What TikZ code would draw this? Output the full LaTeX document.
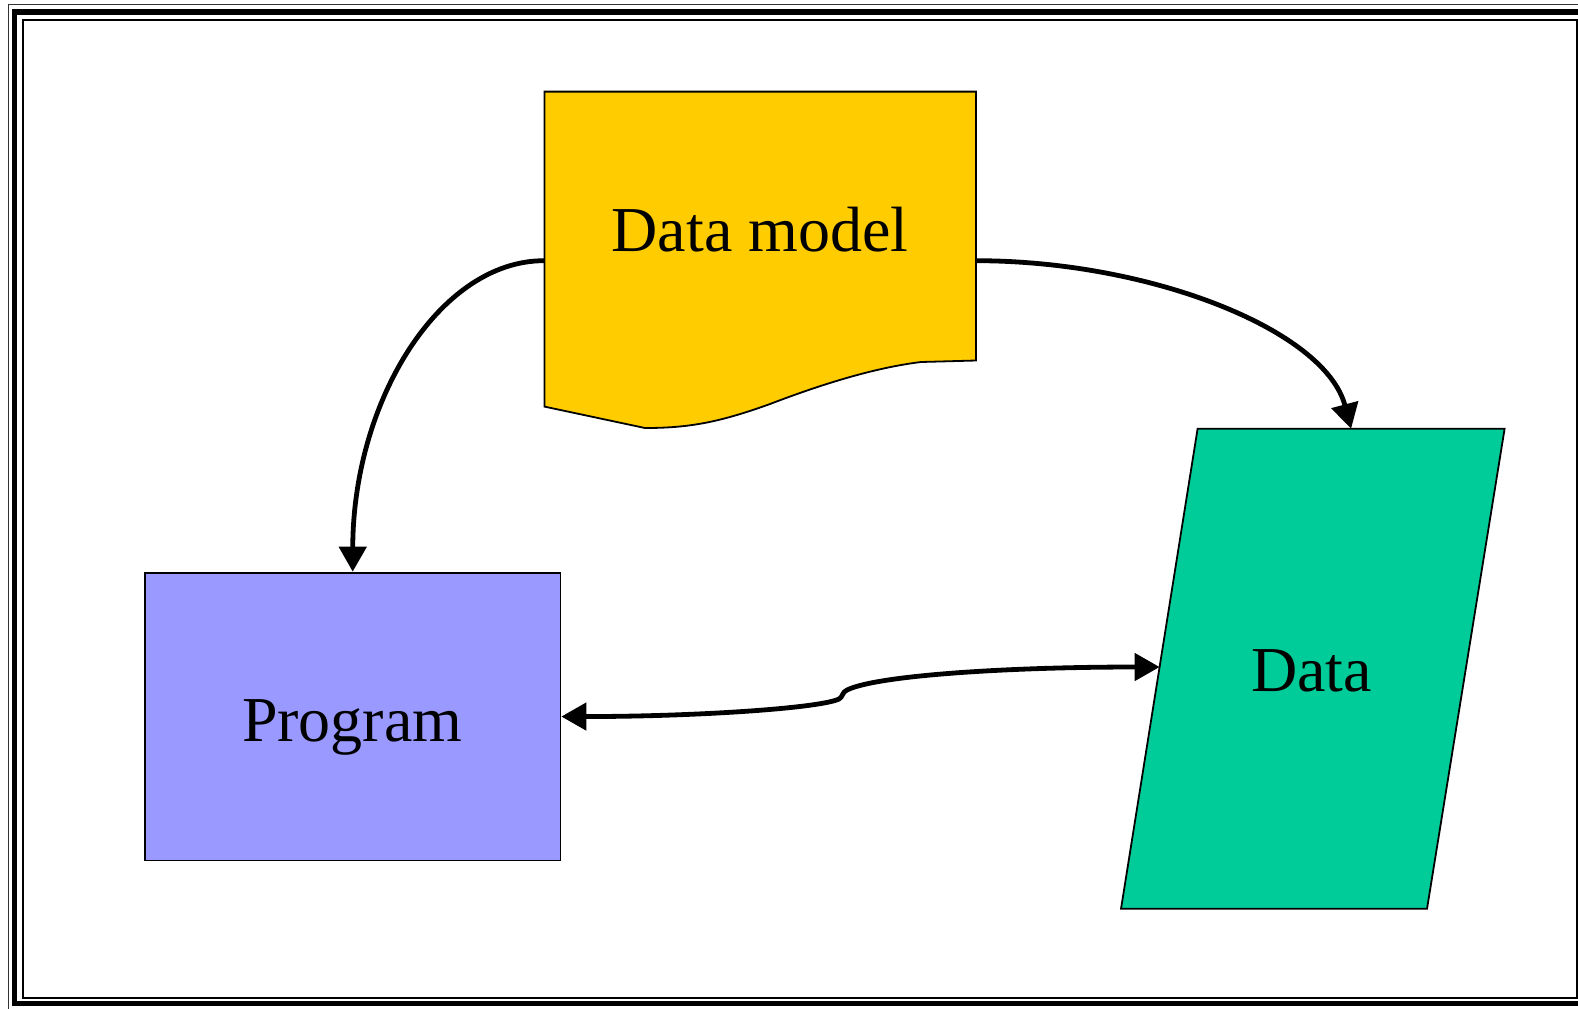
\documentclass[tikz,border=0pt]{standalone}
\usepackage{fontspec}
\setmainfont{Liberation Serif}
\usetikzlibrary{arrows.meta}
\definecolor{docyellow}{HTML}{FFCC00}
\definecolor{progblue}{HTML}{9999FF}
\definecolor{datagreen}{HTML}{00CC99}
\tikzset{
  shapeline/.style={draw=black, line width=0.9pt, inner sep=0pt},
  boxtext/.style={font=\fontsize{32pt}{38pt}\selectfont, inner sep=0pt, anchor=base},
  link/.style={line width=2.4pt, -{Triangle[length=12.5pt,width=13.5pt]}},
  twoway/.style={line width=2.4pt, {Triangle[length=12.5pt,width=13.5pt]}-{Triangle[length=12.5pt,width=13.5pt]}},
}
\begin{document}
\begin{tikzpicture}[x=0.5pt,y=-0.5pt]
\useasboundingbox (0,0) rectangle (1578,1008);
\clip (0,0) rectangle (1578,1008);
\fill[white] (0,0) rectangle (1578,1008);

% triple frame
\draw[line width=0.75pt, black!80] (8.5,4.7) rectangle (1600,1020);
\draw[line width=2.6pt] (14.5,12) rectangle (1590,1003.5);
\draw[line width=1pt] (23,19.7) rectangle (1576.5,998);

% data model: document shape with a wavy lower edge
\node[minimum width=215.75pt, minimum height=169.1pt, inner sep=0pt] (dm) at (760,260.7) {};
\filldraw[fill=docyellow, shapeline]
  (544.5,91.6) -- (976,91.6) -- (976,360.5) -- (921,362)
  .. controls (880,367) and (830,381) .. (770,404)
  .. controls (720,422) and (690,428) .. (645,428)
  -- (544.5,406.6) -- cycle;
\node[boxtext] (dmtext) at (760,251.7) {Data model};

% program
\node[shapeline, rectangle, fill=progblue, minimum width=207.75pt, minimum height=143.95pt] (prog) at (352.7,716.55) {};
\node[boxtext] (progtext) at (352.3,741.7) {Program};

% data: parallelogram leaning right
\filldraw[fill=datagreen, shapeline]
  (1197.6,428.7) -- (1504.6,428.7) -- (1427,908.8) -- (1121,908.8) -- cycle;
\coordinate (datatop) at (1351.1,428.7);
\coordinate (dataleft) at (1159.6,667);
\node[boxtext] (datatext) at (1311.7,691.7) {Data};

% connectors
\draw[link] (dm.west) .. controls (440,260.7) and (353,400) .. (prog.north);
\draw[link] (dm.east) .. controls (1150,260.7) and (1325,330) .. (datatop);
\draw[twoway] (prog.east) .. controls (700,716.5) and (820,708) .. (839,699)
  .. controls (843,697) and (842,692) .. (847,690)
  .. controls (875,676) and (1000,667) .. (dataleft);
\end{tikzpicture}
\end{document}
